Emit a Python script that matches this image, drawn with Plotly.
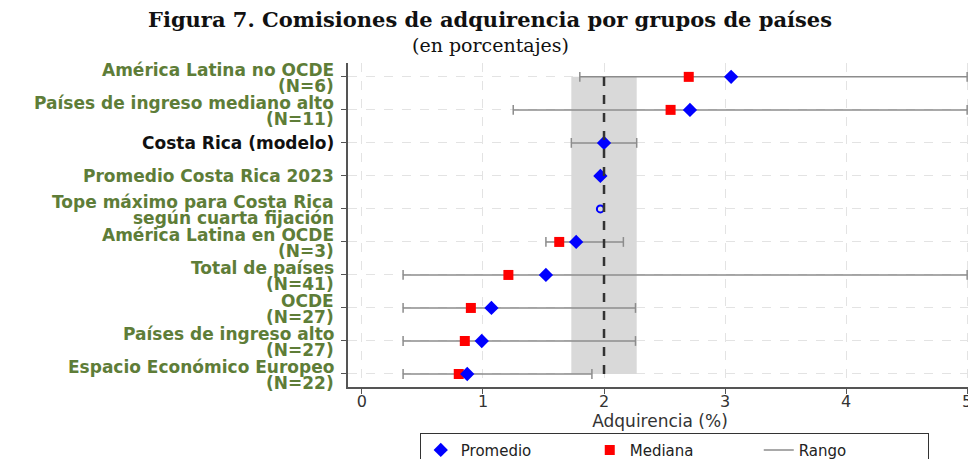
"""Figura 7: comisiones de adquirencia por grupos de países"""

import plotly.graph_objects as go

# datos (en porcentajes)
grupos = [
    "América Latina no OCDE<br>(N=6)",
    "Países de ingreso mediano alto<br>(N=11)",
    "Costa Rica (modelo)",
    "Promedio Costa Rica 2023",
    "Tope máximo para Costa Rica<br>según cuarta fijación",
    "América Latina en OCDE<br>(N=3)",
    "Total de países<br>(N=41)",
    "OCDE<br>(N=27)",
    "Países de ingreso alto<br>(N=27)",
    "Espacio Económico Europeo<br>(N=22)",
]
promedio = [3.05, 2.71, 2.00, 1.97, None, 1.77, 1.52, 1.07, 0.99, 0.87]
mediana = [2.70, 2.55, None, None, None, 1.63, 1.21, 0.90, 0.85, 0.80]
rango_min = [1.80, 1.25, 1.73, None, None, 1.52, 0.34, 0.34, 0.34, 0.34]
rango_max = [5.00, 5.00, 2.27, None, None, 2.16, 5.00, 2.26, 2.26, 1.90]
tope_maximo = [None, None, None, None, 1.97, None, None, None, None, None]
referencia_cr = 2.0
banda_cr = [1.73, 2.27]
x_ticks = [0, 1, 2, 3, 4, 5]

VERDE = "#5e7d38"
GRIS = "#8c8c8c"
SANS = "DejaVu Sans, Arial, sans-serif"
SERIF = "DejaVu Serif, Times New Roman, serif"

n = len(grupos)
pos = list(range(n, 0, -1))  # primera fila arriba

# segmentos de rango
rx, ry = [], []
cx, cy = [], []
for y, lo, hi in zip(pos, rango_min, rango_max):
    if lo is None:
        continue
    rx += [lo, hi, None]
    ry += [y, y, None]
    cx += [lo, hi]
    cy += [y, y]

fig = go.Figure()

fig.add_trace(go.Scatter(
    x=rx, y=ry, mode="lines", name="Rango",
    line=dict(color=GRIS, width=1.5), legendrank=3,
))
fig.add_trace(go.Scatter(
    x=cx, y=cy, mode="markers", showlegend=False,
    marker=dict(symbol="line-ns", size=7, line=dict(color=GRIS, width=1.5)),
))
fig.add_trace(go.Scatter(
    x=mediana, y=pos, mode="markers", name="Mediana", legendrank=2,
    marker=dict(symbol="square", size=10, color="#ff0000"),
))
fig.add_trace(go.Scatter(
    x=promedio, y=pos, mode="markers", name="Promedio", legendrank=1,
    marker=dict(symbol="diamond", size=11, color="#0000ff"),
))
fig.add_trace(go.Scatter(
    x=tope_maximo, y=pos, mode="markers", showlegend=False,
    marker=dict(symbol="circle-open", size=7, color="#0000ff", line=dict(width=2)),
))

# banda y referencia de Costa Rica
fig.add_shape(
    type="rect", xref="x", yref="y", layer="between",
    x0=banda_cr[0], x1=banda_cr[1], y0=min(pos), y1=max(pos),
    fillcolor="#d9d9d9", line_width=0,
)
fig.add_shape(
    type="line", xref="x", yref="y", layer="above",
    x0=referencia_cr, x1=referencia_cr, y0=min(pos), y1=max(pos),
    line=dict(color="#333333", width=2.5, dash="dash"),
)

# etiquetas de los grupos, una anotación por línea
for g, y in zip(grupos, pos):
    color = "#111111" if g.startswith("Costa Rica (modelo)") else VERDE
    lineas = g.split("<br>")
    shifts = [0] if len(lineas) == 1 else [7, -9]
    for texto, dy in zip(lineas, shifts):
        fig.add_annotation(
            text=f"<b>{texto}</b>", xref="paper", yref="y", x=0, y=y,
            xanchor="right", yanchor="middle", xshift=-12, yshift=dy,
            showarrow=False, font=dict(family=SANS, size=17, color=color),
        )

fig.add_annotation(
    text="<b>Figura 7. Comisiones de adquirencia por grupos de países</b>",
    xref="paper", yref="paper", x=0.228, y=1.133, xanchor="center",
    yanchor="middle", showarrow=False,
    font=dict(family=SERIF, size=21, color="#111111"),
)
fig.add_annotation(
    text="(en porcentajes)",
    xref="paper", yref="paper", x=0.228, y=1.056, xanchor="center",
    yanchor="middle", showarrow=False,
    font=dict(family=SERIF, size=19, color="#111111"),
)

fig.update_xaxes(
    range=[-0.115, 5.04], tickvals=x_ticks, ticks="outside", ticklen=5,
    tickcolor="#555555", showline=True, linecolor="#555555", linewidth=1.5,
    showgrid=True, gridcolor="#e3e3e3", griddash="dash", zeroline=False,
    tickfont=dict(size=16, color="#333333"), ticklabelstandoff=-6,
    title=dict(text="Adquirencia (%)", font=dict(size=17, color="#333333"), standoff=1),
)
fig.update_yaxes(
    range=[0.606, 10.42], tickvals=pos, showticklabels=False, ticks="outside",
    ticklen=5, tickcolor="#555555", showline=True, linecolor="#555555",
    linewidth=1.5, showgrid=True, gridcolor="#e3e3e3", griddash="dash",
    zeroline=False,
)

# la página añade 8 px de margen al cuerpo: márgenes compensados
fig.update_layout(
    width=976, height=459,
    font=dict(family=SANS, color="#333333"),
    plot_bgcolor="white", paper_bgcolor="white",
    margin=dict(l=340, r=12, t=55, b=80, autoexpand=False),
    showlegend=True,
    legend=dict(
        orientation="h", x=0.115, xanchor="left", y=-0.141, yanchor="top",
        bordercolor="#333333", borderwidth=1, font=dict(size=15, color="#222222"),
        entrywidth=124, traceorder="normal",
    ),
)

fig.write_html("out.html")
